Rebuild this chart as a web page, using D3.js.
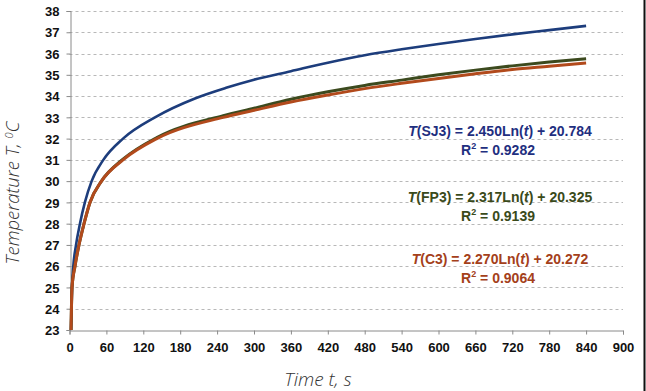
<!DOCTYPE html>
<html>
<head>
<meta charset="utf-8">
<script src="https://cdn.jsdelivr.net/npm/d3@7"></script>
<style>
  body { margin: 0; background: #fff; }
  svg { display: block; }
</style>
</head>
<body>
<svg id="chart"></svg>
<script>
// SJ3 : time (s) / temperature (degC)
const timeSJ3 = [2.5, 4.1, 6.2, 10.6, 17, 25, 36, 55, 87, 139, 205, 256, 300, 360, 420, 480, 540, 600, 660, 720, 780, 840];
const tempSJ3 = [23.0, 25.0, 26.0, 27.0, 28.0, 29.0, 30.0, 31.0, 32.0, 33.0, 33.9, 34.4, 34.77, 35.17, 35.57, 35.92, 36.2, 36.45, 36.68, 36.9, 37.1, 37.3];

// FP3
const timeFP3 = [2.5, 4.1, 8.9, 15.4, 23.6, 33.3, 52, 87, 142, 250, 300, 360, 420, 480, 540, 600, 660, 720, 780, 840];
const tempFP3 = [23.0, 25.0, 26.0, 27.0, 28.0, 29.0, 30.0, 31.03, 32.05, 33.08, 33.43, 33.85, 34.2, 34.5, 34.75, 35.0, 35.22, 35.42, 35.6, 35.75];

// C3
const timeC3 = [2.5, 4.1, 8.9, 15.4, 23.6, 33.3, 52, 87, 142, 250, 300, 360, 420, 480, 540, 600, 660, 720, 780, 840];
const tempC3 = [23.0, 25.0, 26.0, 27.0, 28.0, 29.0, 30.0, 31.0, 32.0, 33.0, 33.33, 33.72, 34.05, 34.35, 34.6, 34.83, 35.05, 35.25, 35.4, 35.55];

const xTicks = d3.range(0, 901, 60);
const yTicks = d3.range(23, 39, 1);

// trendline labels
const fitNames = ["SJ3", "FP3", "C3"];
const fitEq = ["2.450Ln(", "2.317Ln(", "2.270Ln("];
const fitConst = [") + 20.784", ") + 20.325", ") + 20.272"];
const fitR2 = ["0.9282", "0.9139", "0.9064"];

const width = 646, height = 391;
const margin = { top: 11, right: 23, bottom: 61, left: 69.5 };

const svg = d3.select("#chart").attr("width", width).attr("height", height);

const x = d3.scaleLinear().domain([0, 900]).range([margin.left, width - margin.right]);
const y = d3.scaleLinear().domain([23, 38]).range([height - margin.bottom, margin.top]);

// grid
svg.append("g")
    .selectAll("line")
    .data(yTicks.filter(d => d > 23))
    .enter().append("line")
    .attr("x1", x(0)).attr("x2", x(900))
    .attr("y1", d => Math.round(y(d)) + 0.5).attr("y2", d => Math.round(y(d)) + 0.5)
    .attr("stroke", "#b8b8b8")
    .attr("stroke-width", 1)
    .attr("stroke-dasharray", "3,3");

// axes
const xaxis = d3.axisBottom(x).tickValues(xTicks).tickSize(4).tickPadding(8);
const yaxis = d3.axisLeft(y).tickValues(yTicks).tickSize(4).tickPadding(7);

const gx = svg.append("g")
    .attr("transform", `translate(0, ${Math.round(y(23)) + 0.5})`)
    .call(xaxis);
const gy = svg.append("g")
    .attr("transform", `translate(${Math.round(x(0)) + 0.5}, 0)`)
    .call(yaxis);

[gx, gy].forEach(g => {
    g.select(".domain").attr("stroke", "#8a8a8a");
    g.selectAll(".tick line").attr("stroke", "#8a8a8a");
    g.selectAll(".tick text")
        .attr("fill", "#111")
        .attr("font-family", "Liberation Sans, Arial, sans-serif")
        .attr("font-weight", "bold")
        .attr("font-size", "13px");
});
gy.selectAll(".tick text").attr("dy", "0.36em");

// curves
const line = d3.line()
    .x(d => x(d[0]))
    .y(d => y(d[1]))
    .curve(d3.curveMonotoneX);

const series = [
    { time: timeSJ3, values: tempSJ3, color: "#1d3d7c", w: 2.6 },
    { time: timeFP3, values: tempFP3, color: "#3c4a1e", w: 3 },
    { time: timeC3, values: tempC3, color: "#b24a1c", w: 3 }
];

series.forEach(s => {
    svg.append("path")
        .datum(s.time.map((t, i) => [t, s.values[i]]))
        .attr("d", line)
        .attr("fill", "none")
        .attr("stroke", s.color)
        .attr("stroke-width", s.w)
        .attr("stroke-linejoin", "round");
});

// equations
const labelColors = ["#1f2f80", "#3a4a1a", "#a4401a"];
const eqBase = [136, 202, 264];
const eqX = 500;

fitNames.forEach((name, i) => {
    const eq = svg.append("text")
        .attr("x", eqX)
        .attr("y", eqBase[i])
        .attr("text-anchor", "middle")
        .attr("font-family", "Liberation Sans, Arial, sans-serif")
        .attr("font-weight", "bold")
        .attr("font-size", "14px")
        .attr("fill", labelColors[i]);
    eq.append("tspan").attr("font-style", "italic").text("T");
    eq.append("tspan").text(`(${name}) = ${fitEq[i]}`);
    eq.append("tspan").attr("font-style", "italic").text("t");
    eq.append("tspan").text(fitConst[i]);

    const r2 = svg.append("text")
        .attr("x", eqX - 2)
        .attr("y", eqBase[i] + 19)
        .attr("text-anchor", "middle")
        .attr("font-family", "Liberation Sans, Arial, sans-serif")
        .attr("font-weight", "bold")
        .attr("font-size", "14px")
        .attr("fill", labelColors[i]);
    r2.append("tspan").text("R");
    r2.append("tspan").attr("font-size", "9px").attr("dy", "-6").text("2");
    r2.append("tspan").attr("dy", "6").text(` = ${fitR2[i]}`);
});

// axis titles
svg.append("text")
    .attr("x", 318)
    .attr("y", 386)
    .attr("text-anchor", "middle")
    .attr("font-family", "Open Sans, sans-serif")
    .attr("font-style", "italic")
    .attr("font-weight", 300)
    .attr("font-size", "19px")
    .attr("fill", "#333")
    .text("Time t, s");

const ylab = svg.append("text")
    .attr("transform", "translate(19, 193) rotate(-90)")
    .attr("text-anchor", "middle")
    .attr("font-family", "Open Sans, sans-serif")
    .attr("font-style", "italic")
    .attr("font-weight", 300)
    .attr("font-size", "18.5px")
    .attr("fill", "#333");
ylab.append("tspan").text("Temperature T, ");
ylab.append("tspan").attr("font-size", "11px").attr("dy", "-6").text("0");
ylab.append("tspan").attr("dy", "6").text("C");

// right frame edge
svg.append("line")
    .attr("x1", 644.5).attr("x2", 644.5)
    .attr("y1", 0).attr("y2", height)
    .attr("stroke", "#111")
    .attr("stroke-width", 2);
</script>
</body>
</html>
